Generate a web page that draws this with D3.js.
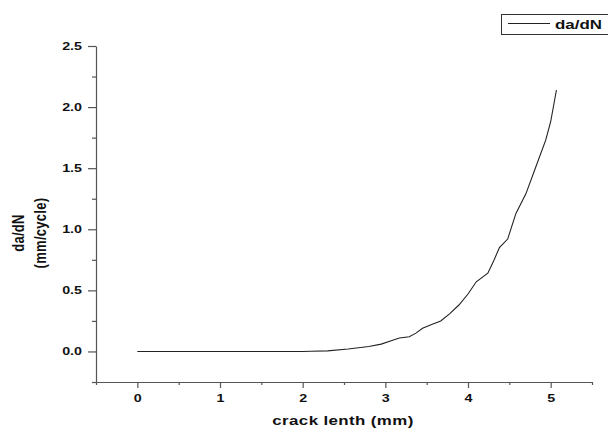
<!DOCTYPE html>
<html>
<head>
<meta charset="utf-8">
<script src="https://cdn.jsdelivr.net/npm/d3@7"></script>
<style>
  body { margin: 0; background: #fff; }
  svg { display: block; font-family: "Liberation Sans", Arial, sans-serif; font-weight: bold; }
</style>
</head>
<body>
<div id="chart"></div>
<script>
// data
const crackLength = [0, 0.5, 1, 1.5, 2, 2.1, 2.3, 2.55, 2.8, 2.95, 3.08, 3.17, 3.29, 3.37, 3.45, 3.56, 3.67, 3.78, 3.89, 4.0, 4.1, 4.24, 4.31, 4.38, 4.48, 4.58, 4.7, 4.82, 4.94, 5.0, 5.07];
const dadN = [0, 0, 0, 0, 0, 0.002, 0.005, 0.02, 0.04, 0.06, 0.09, 0.11, 0.12, 0.15, 0.19, 0.22, 0.25, 0.31, 0.38, 0.47, 0.57, 0.64, 0.74, 0.85, 0.92, 1.13, 1.29, 1.51, 1.73, 1.88, 2.14];
const xTicks = [0, 1, 2, 3, 4, 5];
const xMinor = [-0.5, 0.5, 1.5, 2.5, 3.5, 4.5, 5.5];
const yTicks = [0, 0.5, 1.0, 1.5, 2.0, 2.5];
const yMinor = [-0.25, 0.25, 0.75, 1.25, 1.75, 2.25];

const width = 608, height = 431;
const sx = 1.3; // picture is stretched sideways

const svg = d3.select('#chart').append('svg')
    .attr('width', width)
    .attr('height', height);

const x = d3.scaleLinear().domain([-0.5, 5.5]).range([96, 592]);
const y = d3.scaleLinear().domain([-0.25, 2.5]).range([382, 46]);

//Bottom axis
const gx = svg.append('g').attr('transform', `translate(0,${y(-0.25)})`);
gx.append('g')
    .call(d3.axisBottom(x).tickValues(xMinor).tickSize(3).tickFormat(''))
    .call(g => g.select('.domain').remove());
gx.append('g')
    .call(d3.axisBottom(x).tickValues(xTicks).tickSize(6).tickSizeOuter(0).tickPadding(4).tickFormat(d3.format('d')));

//Left axis
const gy = svg.append('g').attr('transform', `translate(${x(-0.5)},0)`);
gy.append('g')
    .call(d3.axisLeft(y).tickValues(yMinor).tickSize(4).tickFormat(''))
    .call(g => g.select('.domain').remove());
gy.append('g')
    .call(d3.axisLeft(y).tickValues(yTicks).tickSize(8).tickSizeOuter(0).tickPadding(6).tickFormat(d3.format('.1f')));

svg.selectAll('.domain, .tick line').attr('stroke', '#555').attr('stroke-width', 1.2);
svg.selectAll('.tick text')
    .attr('fill', '#111')
    .attr('font-size', 11)
    .attr('font-family', '"Liberation Sans", Arial, sans-serif')
    .attr('font-weight', 'bold')
    .attr('transform', `scale(${sx},1)`)
    .attr('x', function () { return +d3.select(this).attr('x') / sx; });
gx.selectAll('.tick text').attr('dy', '0.95em');

//Curve
const line = d3.line()
    .x((d, i) => x(crackLength[i]))
    .y(d => y(d));

svg.append('path')
    .datum(dadN)
    .attr('fill', 'none')
    .attr('stroke', '#222')
    .attr('stroke-width', 1.1)
    .attr('d', line);

//Titles
function label(px, py, txt, rot) {
    svg.append('g')
        .attr('transform', `translate(${px},${py}) scale(${sx},1)` + (rot ? ` rotate(${rot})` : ''))
        .append('text')
        .attr('text-anchor', 'middle')
        .attr('font-size', 13)
        .attr('letter-spacing', 0.3)
        .attr('fill', '#111')
        .text(txt);
}
label(343, 425, 'crack lenth (mm)');
label(24, 233, 'da/dN', -90);
label(46, 233, '(mm/cycle)', -90);

//Legend
svg.append('rect')
    .attr('x', 501.5).attr('y', 14.5)
    .attr('width', 120).attr('height', 20)
    .attr('fill', '#fff').attr('stroke', '#333');
svg.append('line')
    .attr('x1', 508).attr('x2', 550)
    .attr('y1', 23.5).attr('y2', 23.5)
    .attr('stroke', '#222');
svg.append('g')
    .attr('transform', `translate(555,29) scale(${sx},1)`)
    .append('text')
    .attr('font-size', 13)
    .attr('fill', '#111')
    .text('da/dN');
</script>
</body>
</html>
